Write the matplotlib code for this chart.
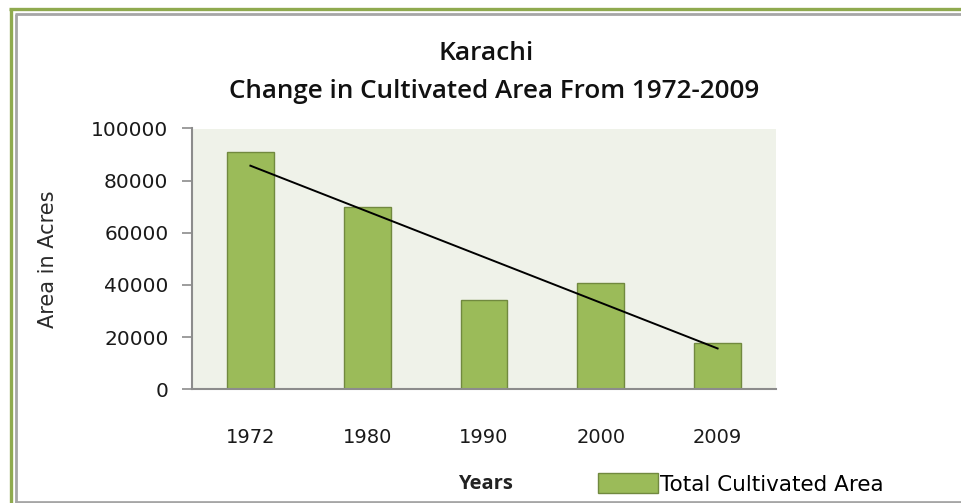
import numpy as np
import matplotlib
matplotlib.use("Agg")
import matplotlib.pyplot as plt
from matplotlib.patches import Patch
from matplotlib.lines import Line2D

years = ['1972', '1980', '1990', '2000', '2009']
area = [90800, 69800, 34400, 40800, 17700]
y_ticks = [0, 20000, 40000, 60000, 80000, 100000]

bar_color = '#9bbb59'
bar_edge = '#71893f'
title_font = ['Open Sans', 'DejaVu Sans']

fig = plt.figure(figsize=(9.61, 5.03), dpi=100)
ax = fig.add_axes([192 / 961, 1 - 389.3 / 503, 584 / 961, (389.3 - 128.5) / 503])
ax.set_facecolor('#eff2e9')

x = np.arange(len(years))
ax.bar(x, area, width=0.40, color=bar_color, edgecolor=bar_edge, linewidth=1, zorder=2)

# linear trendline like Excel's
slope, intercept = np.polyfit(x, area, 1)
ax.plot(x, slope * x + intercept, color='black', linewidth=1.4, zorder=3)

ax.set_xlim(-0.5, len(years) - 0.5)
ax.set_ylim(0, 100000)
ax.set_yticks(y_ticks)
ax.set_yticklabels([str(t) for t in y_ticks])
ax.set_xticks(x)
ax.set_xticklabels(years)

for s in ['top', 'right']:
    ax.spines[s].set_visible(False)
for s in ['left', 'bottom']:
    ax.spines[s].set_color('#8c8c8c')
    ax.spines[s].set_linewidth(1.5)
ax.tick_params(axis='y', direction='out', length=7, width=1.2, color='#8c8c8c',
               labelsize=14.5, pad=10, labelcolor='#1a1a1a')
ax.tick_params(axis='x', length=0, labelsize=14, pad=28, labelcolor='#1a1a1a')

ax.set_ylabel('Area in Acres', fontsize=15, color='#2a2a2a', labelpad=24)

fig.text(486 / 961, 1 - 53 / 503, 'Karachi', ha='center', va='center',
         fontsize=19, family=title_font, fontweight='semibold', color='#111111')
fig.text(494 / 961, 1 - 92 / 503, 'Change in Cultivated Area From 1972-2009',
         ha='center', va='center', fontsize=18.7, family=title_font, fontweight='semibold',
         color='#111111')
fig.text(485 / 961, 1 - 484 / 503, 'Years', ha='center', va='center',
         fontsize=14.5, family=title_font, fontweight='bold', color='#222222')

fig.legend(handles=[Patch(facecolor=bar_color, edgecolor=bar_edge, label='Total Cultivated Area')],
           loc='center left', bbox_to_anchor=(598 / 961, 1 - 484 / 503), frameon=False,
           fontsize=15.5, handlelength=2.8, handleheight=1.0, handletextpad=0.1,
           borderaxespad=0, borderpad=0)

# outer frame: green border left/top and grey inner border
fig.add_artist(Line2D([10.5 / 961, 10.5 / 961], [0, 1 - 8.5 / 503], color='#8faa4f', linewidth=2.4,
                      transform=fig.transFigure, solid_capstyle='butt'))
fig.add_artist(Line2D([9 / 961, 1], [1 - 8.5 / 503, 1 - 8.5 / 503], color='#8faa4f', linewidth=2.4,
                      transform=fig.transFigure, solid_capstyle='butt'))
fig.add_artist(Line2D([15.5 / 961, 15.5 / 961], [0, 1 - 13.5 / 503], color='#a6a6a6', linewidth=2,
                      transform=fig.transFigure, solid_capstyle='butt'))
fig.add_artist(Line2D([14.5 / 961, 1], [1 - 13.5 / 503, 1 - 13.5 / 503], color='#a6a6a6', linewidth=2,
                      transform=fig.transFigure, solid_capstyle='butt'))
fig.add_artist(Line2D([14.5 / 961, 1], [1.5 / 503, 1.5 / 503], color='#a6a6a6', linewidth=2,
                      transform=fig.transFigure, solid_capstyle='butt'))

fig.savefig('out.png', dpi=100)
